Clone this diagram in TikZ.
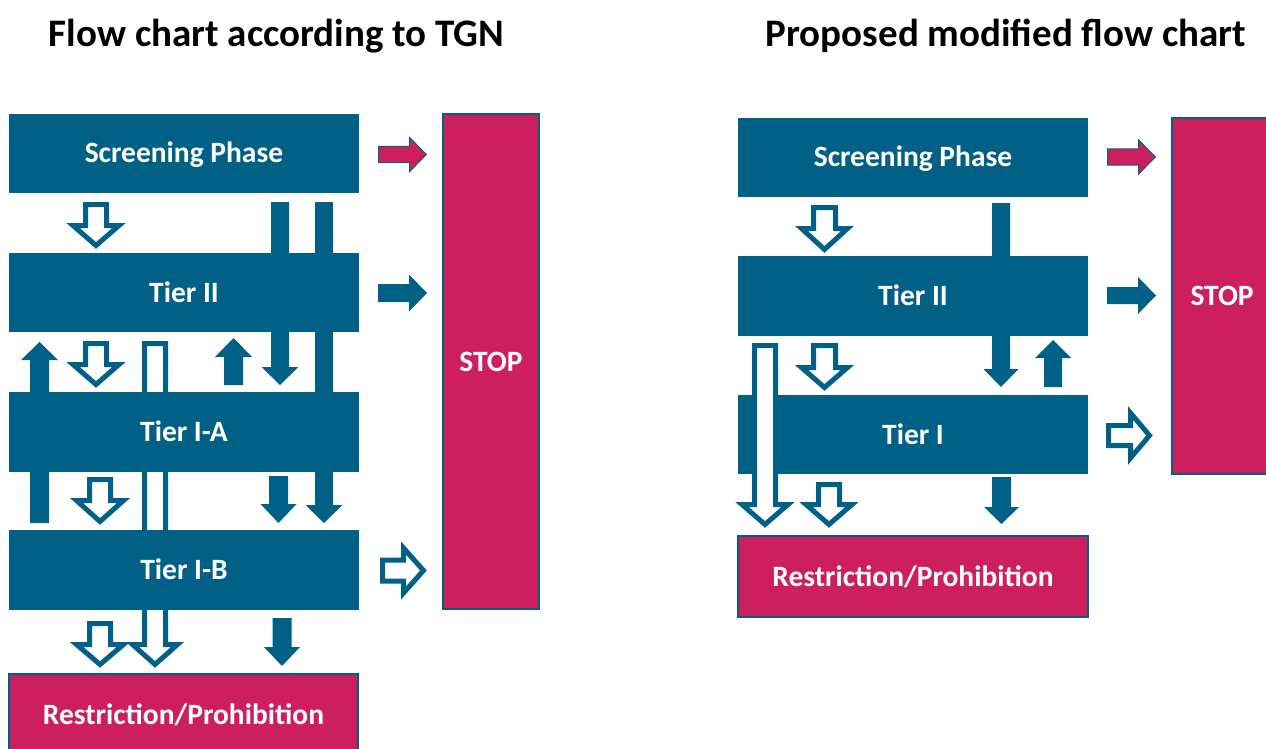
\documentclass[tikz,border=0pt]{standalone}
\usepackage{fontspec}
\setmainfont{Carlito}
\definecolor{tblue}{RGB}{1,96,133}
\definecolor{tpink}{RGB}{205,31,94}
\tikzset{
  boxbase/.style={rectangle, inner sep=0pt, text=white, text height=19pt, text depth=0pt, font=\fontsize{29.5}{34}\selectfont\bfseries},
  bluebox/.style={boxbase, fill=tblue},
  pinkbox/.style={boxbase, fill=tpink, draw=tblue, line width=1.5pt},
  solidarr/.style={fill=tblue},
  openarr/.style={fill=white, draw=tblue, line width=5pt, line join=miter},
  pinkarr/.style={fill=tpink, draw=tblue, line width=1pt, line join=miter},
  titletext/.style={font=\fontsize{39}{46}\selectfont\bfseries, text=black, inner sep=0pt}
}
% vertical block arrow: style, xc, ystart, ybase, ytip, shaft half width, head half width, inset
\newcommand{\VArr}[8]{%
  \pgfmathsetmacro\arrD{(#5>#3)?1:-1}%
  \pgfmathsetmacro\arrS{#3+\arrD*#8}%
  \pgfmathsetmacro\arrB{#4+\arrD*#8}%
  \pgfmathsetmacro\arrT{#5-\arrD*1.41*#8}%
  \pgfmathsetmacro\arrW{#6-#8}%
  \pgfmathsetmacro\arrH{#7-1.6*#8}%
  \path[#1] (#2-\arrW,\arrS) -- (#2+\arrW,\arrS) -- (#2+\arrW,\arrB) -- (#2+\arrH,\arrB)
     -- (#2,\arrT) -- (#2-\arrH,\arrB) -- (#2-\arrW,\arrB) -- cycle;}
% horizontal block arrow: style, yc, xstart, xbase, xtip, shaft half width, head half width, inset
\newcommand{\HArr}[8]{%
  \pgfmathsetmacro\arrD{(#5>#3)?1:-1}%
  \pgfmathsetmacro\arrS{#3+\arrD*#8}%
  \pgfmathsetmacro\arrB{#4+\arrD*#8}%
  \pgfmathsetmacro\arrT{#5-\arrD*1.41*#8}%
  \pgfmathsetmacro\arrW{#6-#8}%
  \pgfmathsetmacro\arrH{#7-1.6*#8}%
  \path[#1] (\arrS,#2-\arrW) -- (\arrS,#2+\arrW) -- (\arrB,#2+\arrW) -- (\arrB,#2+\arrH)
     -- (\arrT,#2) -- (\arrB,#2-\arrH) -- (\arrB,#2-\arrW) -- (\arrS,#2-\arrW) -- cycle;}
\begin{document}
\begin{tikzpicture}[x=1pt,y=-1pt]
\useasboundingbox[fill=white] (0,0) rectangle (1266,749);

% titles
\node[titletext] (titleL) at (276.5,36) {Flow chart according to TGN};
\node[titletext] (titleR) at (1006,36) {Proposed modified flow chart};

% ---------- left chart: arrows passing behind boxes ----------
\VArr{solidarr}{280}{202}{367}{385}{9}{18.5}{0}
\VArr{solidarr}{324}{202}{505}{523}{9}{18.5}{0}
\VArr{solidarr}{39.5}{523}{360}{342}{9.5}{18.5}{0}
\VArr{openarr}{155}{341}{642}{668}{13}{26.5}{2.5}
% ---------- right chart: arrow passing behind Tier II ----------
\VArr{solidarr}{1001}{203}{369}{387}{9}{17.5}{0}

% ---------- left boxes ----------
\node[bluebox, minimum width=350pt, minimum height=79pt] (scrL) at (184,153.5) {Screening Phase};
\node[bluebox, minimum width=350pt, minimum height=79pt] (t2L) at (184,292.5) {Tier II};
\node[bluebox, minimum width=350pt, minimum height=80pt] (t1aL) at (184,432) {Tier I-A};
\node[bluebox, minimum width=350pt, minimum height=80pt] (t1bL) at (184,570) {Tier I-B};
\node[pinkbox, minimum width=349pt, minimum height=82pt] (resL) at (183.5,715) {Restriction/Prohibition};
\node[pinkbox, minimum width=96pt, minimum height=495pt] (stopL) at (491,361.5) {STOP};

% ---------- right boxes ----------
\node[bluebox, minimum width=350pt, minimum height=79pt] (scrR) at (913,157.5) {Screening Phase};
\node[bluebox, minimum width=350pt, minimum height=80pt] (t2R) at (913,296) {Tier II};
\node[bluebox, minimum width=350pt, minimum height=79pt] (t1R) at (913,434.5) {Tier I};
\node[pinkbox, minimum width=350pt, minimum height=81pt] (resR) at (913,576.5) {Restriction/Prohibition};
\node[pinkbox, minimum width=103pt, minimum height=356pt, text width=94pt, align=left] (stopR) at (1223.5,296) {\hspace*{14pt}STOP};

% ---------- left arrows ----------
\HArr{pinkarr}{154.5}{378}{409}{427}{8.5}{18}{0.5}
\HArr{solidarr}{293}{378}{409}{427}{9}{18.5}{0}
\HArr{openarr}{570.5}{380}{401}{427}{13}{26.5}{2.5}
\VArr{openarr}{96}{202}{223}{249}{13}{27}{2.5}
\VArr{openarr}{96}{341}{362}{388}{13}{27}{2.5}
\VArr{solidarr}{233.5}{385}{357}{338}{9.5}{18.5}{0}
\VArr{openarr}{100}{477}{498}{525}{13}{27.5}{2.5}
\VArr{solidarr}{278.5}{476}{504}{523}{9.5}{18}{0}
\VArr{openarr}{100}{621}{642}{668}{13}{27.5}{2.5}
\VArr{solidarr}{282}{618}{647}{666}{9.5}{18}{0}

% ---------- right arrows ----------
\HArr{pinkarr}{157}{1107}{1138}{1156}{8.5}{18}{0.5}
\HArr{solidarr}{295.5}{1107}{1138}{1156}{8.5}{18.5}{0}
\HArr{openarr}{435.5}{1106}{1128}{1153}{12.5}{26.5}{2.5}
\VArr{openarr}{824.5}{205}{226}{253}{13.5}{27}{2.5}
\VArr{openarr}{765}{343}{502}{528}{13}{27}{2.5}
\VArr{openarr}{824.5}{343}{365}{391}{13.5}{27}{2.5}
\VArr{solidarr}{1053}{387}{358}{340}{9}{18}{0}
\VArr{openarr}{829}{482}{502}{528}{13}{27}{2.5}
\VArr{solidarr}{1001.5}{477}{507}{524}{9.5}{17.5}{0}
\end{tikzpicture}
\end{document}
